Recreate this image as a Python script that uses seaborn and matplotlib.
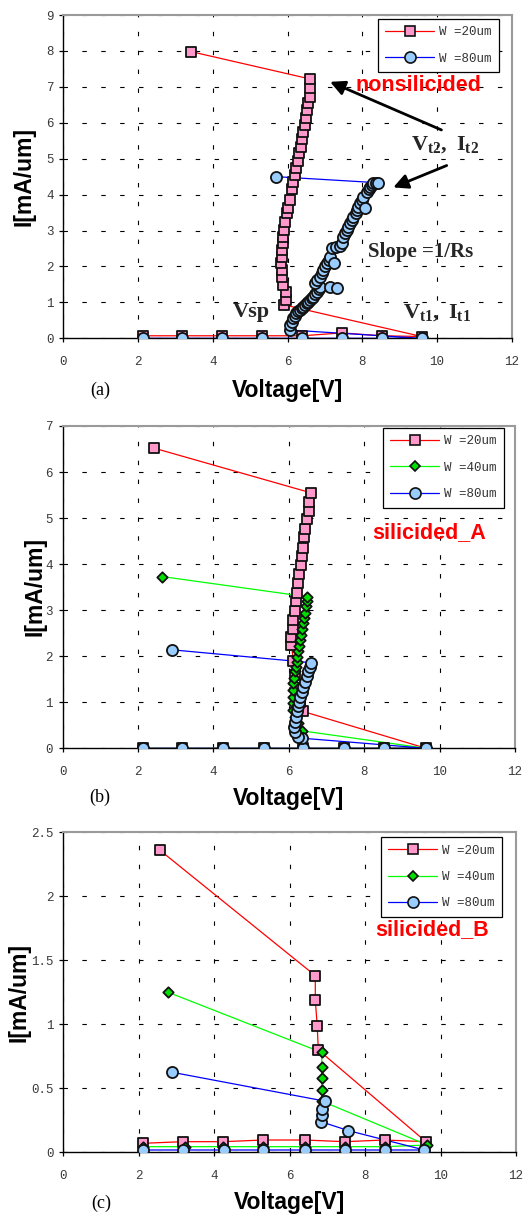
import matplotlib
matplotlib.use("Agg")
import matplotlib.pyplot as plt
from matplotlib.lines import Line2D
import seaborn as sns
import pandas as pd

# ---------------- data ----------------
# panel (a) nonsilicided
a20_V = [2.12, 3.19, 4.26, 5.33, 6.40, 7.45, 8.52, 9.59,
         5.91, 5.96, 5.96, 5.87, 5.84, 5.84, 5.82, 5.84, 5.84, 5.87, 5.89, 5.91,
         5.93, 5.98, 6.02, 6.07, 6.11, 6.16, 6.20, 6.23, 6.27, 6.32, 6.36, 6.38,
         6.42, 6.47, 6.49, 6.51, 6.56, 6.60, 6.60, 6.60, 3.42]
a20_I = [0.07, 0.07, 0.07, 0.07, 0.07, 0.15, 0.07, 0.05,
         0.93, 1.07, 1.30, 1.48, 1.72, 1.90, 2.09, 2.27, 2.46, 2.64, 2.83, 3.01,
         3.25, 3.48, 3.62, 3.85, 4.15, 4.36, 4.55, 4.73, 4.94, 5.15, 5.33, 5.54,
         5.75, 5.94, 6.12, 6.35, 6.54, 6.73, 6.96, 7.22, 7.98]
a80_V = [2.12, 3.19, 4.26, 5.33, 6.40, 7.45, 8.52, 9.59,
         6.07, 6.08, 6.12, 6.16, 6.20, 6.24, 6.28, 6.33, 6.38, 6.42, 6.47, 6.51,
         6.56, 6.60, 6.65, 6.69, 6.74, 6.78, 6.83, 6.87, 7.13, 7.33, 6.74, 6.80,
         6.87, 6.92, 6.96, 7.00, 7.05, 7.10, 7.14, 7.25, 7.18, 7.31, 7.40, 7.45,
         7.49, 7.54, 7.58, 7.62, 7.67, 7.72, 7.76, 7.82, 7.87, 7.90, 7.94, 7.99,
         8.03, 8.07, 8.12, 8.17, 8.21, 8.26, 8.30, 8.37, 8.43, 5.69]
a80_I = [0.00, 0.00, 0.00, 0.00, 0.00, 0.00, 0.00, 0.00,
         0.23, 0.37, 0.46, 0.56, 0.63, 0.70, 0.75, 0.79, 0.84, 0.88, 0.93, 0.97,
         1.02, 1.07, 1.11, 1.16, 1.22, 1.30, 1.36, 1.42, 1.42, 1.39, 1.53, 1.62,
         1.72, 1.81, 1.90, 2.00, 2.09, 2.18, 2.27, 2.09, 2.50, 2.55, 2.58, 2.64,
         2.83, 2.92, 3.01, 3.10, 3.20, 3.30, 3.39, 3.48, 3.57, 3.66, 3.76, 3.85,
         3.94, 3.62, 4.08, 4.15, 4.22, 4.27, 4.31, 4.33, 4.33, 4.50]

# panel (b) silicided_A
b20_V = [2.12, 3.16, 4.26, 5.33, 6.38, 7.47, 8.52, 9.64,
         6.38, 6.30, 6.22, 6.16, 6.12, 6.07, 6.07, 6.10, 6.12, 6.15, 6.19, 6.21,
         6.25, 6.28, 6.32, 6.34, 6.37, 6.40, 6.44, 6.49, 6.54, 6.54, 6.58, 2.42]
b20_I = [0.00, 0.00, 0.00, 0.00, 0.00, 0.00, 0.00, 0.00,
         0.80, 1.00, 1.30, 1.60, 1.90, 2.24, 2.41, 2.59, 2.79, 2.98, 3.19, 3.38,
         3.60, 3.79, 3.98, 4.18, 4.36, 4.58, 4.76, 4.97, 5.16, 5.36, 5.55, 6.52]
b40_V = [2.12, 3.16, 4.26, 5.33, 6.38, 7.47, 8.52, 9.64,
         6.34, 6.25, 6.16, 6.12, 6.10, 6.10, 6.10, 6.12, 6.14, 6.16, 6.18, 6.21,
         6.22, 6.25, 6.27, 6.30, 6.32, 6.34, 6.38, 6.40, 6.43, 6.45, 6.47, 6.49, 2.64]
b40_I = [0.00, 0.00, 0.00, 0.00, 0.00, 0.00, 0.00, 0.00,
         0.38, 0.54, 0.69, 0.83, 0.98, 1.12, 1.27, 1.41, 1.52, 1.67, 1.77, 1.88,
         1.99, 2.12, 2.23, 2.35, 2.46, 2.59, 2.72, 2.82, 2.93, 3.08, 3.19, 3.29, 3.73]
b80_V = [2.12, 3.16, 4.26, 5.33, 6.38, 7.47, 8.52, 9.64,
         6.34, 6.23, 6.16, 6.14, 6.16, 6.18, 6.21, 6.23, 6.27, 6.30, 6.34, 6.38,
         6.43, 6.47, 6.52, 6.56, 6.58, 2.89]
b80_I = [0.00, 0.00, 0.00, 0.00, 0.00, 0.00, 0.00, 0.00,
         0.22, 0.25, 0.36, 0.47, 0.58, 0.69, 0.80, 0.91, 1.01, 1.12, 1.23, 1.34,
         1.45, 1.56, 1.67, 1.77, 1.86, 2.14]

# panel (c) silicided_B
c20_V = [2.10, 3.16, 4.24, 5.30, 6.40, 7.46, 8.52, 9.61, 6.76, 6.73, 6.68, 6.68, 2.56]
c20_I = [0.070, 0.083, 0.083, 0.096, 0.096, 0.083, 0.096, 0.083, 0.80, 0.99, 1.19, 1.38, 2.36]
c40_V = [2.10, 3.22, 4.24, 5.30, 6.40, 7.46, 8.52, 9.65, 6.85, 6.85, 6.85, 6.85, 6.85, 2.78]
c40_I = [0.044, 0.044, 0.044, 0.044, 0.044, 0.044, 0.044, 0.057, 0.40, 0.49, 0.58, 0.67, 0.78, 1.25]
c80_V = [2.10, 3.16, 4.26, 5.30, 6.40, 7.46, 8.52, 9.57, 7.55, 6.82, 6.87, 6.87, 6.93, 2.89]
c80_I = [0.018, 0.018, 0.018, 0.018, 0.018, 0.018, 0.018, 0.018, 0.17, 0.24, 0.29, 0.34, 0.40, 0.625]

x_ticks = [0, 2, 4, 6, 8, 10, 12]
a_yticks = [0, 1, 2, 3, 4, 5, 6, 7, 8, 9]
b_yticks = [0, 1, 2, 3, 4, 5, 6, 7]
c_yticks = [0, 0.5, 1, 1.5, 2, 2.5]
c_yticklabels = ["0", "0.5", "1", "1.5", "2", "2.5"]
legend_labels = {"20": "W =20um", "40": "W =40um", "80": "W =80um"}

# ---------------- style ----------------
sns.set_theme(style="white")
plt.rcParams["font.family"] = ["Liberation Sans", "DejaVu Sans"]
plt.rcParams["mathtext.fontset"] = "custom"
plt.rcParams["mathtext.rm"] = "Liberation Serif:bold"
plt.rcParams["mathtext.it"] = "Liberation Serif:bold"
plt.rcParams["mathtext.bf"] = "Liberation Serif:bold"

STY = {
    "20": dict(line="#FF0000", face="#FF99CC", marker="s", s=60),
    "40": dict(line="#00FF00", face="#00E000", marker="D", s=28),
    "80": dict(line="#0000FF", face="#99CCFF", marker="o", s=64),
}
EDGE = "#111111"

W, H = 526, 1215
fig = plt.figure(figsize=(W / 100, H / 100), dpi=100)


def px_axes(x0, y0, x1, y1):
    return fig.add_axes([x0 / W, 1 - y1 / H, (x1 - x0) / W, (y1 - y0) / H])


def draw_panel(ax, series, ylim, yticks, yticklabels, legend_anchor, keys):
    # lines first (all series), then markers
    for k, (V, I) in series:
        df = pd.DataFrame({"V": V, "I": I})
        sns.lineplot(data=df, x="V", y="I", sort=False, estimator=None,
                     color=STY[k]["line"], lw=0.9, ax=ax, zorder=2)
    for z, (k, (V, I)) in enumerate(series):
        df = pd.DataFrame({"V": V, "I": I})
        sns.scatterplot(data=df, x="V", y="I", marker=STY[k]["marker"], s=STY[k]["s"],
                        color=STY[k]["face"], edgecolor=EDGE, linewidth=1.3,
                        ax=ax, zorder=3 + z, legend=False)
    ax.set_xlim(0, 12)
    ax.set_ylim(*ylim)
    ax.set_xticks(x_ticks)
    ax.set_xticklabels([str(t) for t in x_ticks])
    ax.set_yticks(yticks)
    ax.set_yticklabels(yticklabels)
    ax.set_xlabel("")
    ax.set_ylabel("")
    ax.set_axisbelow(True)
    ax.grid(True, color="black", lw=0.8, linestyle=(0, (4, 13)))
    for lab in ax.get_xticklabels() + ax.get_yticklabels():
        lab.set_fontfamily("Liberation Mono")
        lab.set_fontsize(9)
        lab.set_color("#3a3a3a")
    ax.tick_params(axis="y", which="major", left=True, length=3, width=0.9,
                   color="black", pad=4, direction="out")
    ax.tick_params(axis="x", which="major", bottom=True, length=3, width=0.9,
                   color="black", pad=10, direction="out")
    for sp in ("left", "bottom"):
        ax.spines[sp].set_color("black")
        ax.spines[sp].set_linewidth(1.0)
        ax.spines[sp].set_zorder(2.5)
    for sp in ("top", "right"):
        ax.spines[sp].set_color("#9a9a9a")
        ax.spines[sp].set_linewidth(1.5)
    ax.set_facecolor("white")
    handles = []
    for k in keys:
        st = STY[k]
        handles.append(Line2D([0], [0], color=st["line"], lw=0.9, marker=st["marker"],
                              markersize=(st["s"] ** 0.5), markerfacecolor=st["face"],
                              markeredgecolor=EDGE, markeredgewidth=1.2))
    leg = ax.legend(handles, [legend_labels[k] for k in keys], loc="upper right",
                    bbox_to_anchor=legend_anchor, borderaxespad=0,
                    prop={"family": "Liberation Mono", "size": 9},
                    frameon=True, fancybox=False, framealpha=1, edgecolor="black",
                    handlelength=3.9, handletextpad=0.4, labelspacing=1.15,
                    borderpad=0.6)
    leg.get_frame().set_linewidth(0.9)
    for t in leg.get_texts():
        t.set_color("#333333")
    leg.set_zorder(10)


# ---------------- panel (a) ----------------
axA = px_axes(63.3, 15, 511.7, 338.3)
draw_panel(axA, [("20", (a20_V, a20_I)), ("80", (a80_V, a80_I))],
           (0, 9), a_yticks, [str(t) for t in a_yticks], (0.9717, 0.988), ["20", "80"])
axA.text(7.81, 6.89, "nonsilicided", color="#FF0000", fontsize=15.5,
         fontweight="bold", ha="left", va="baseline", zorder=6)
axA.text(9.30, 5.24, r"$\mathrm{V_{t2},\ I_{t2}}$", fontsize=16, ha="left",
         va="baseline", zorder=6)
axA.text(8.16, 2.27, "Slope =1/Rs", fontsize=15, fontweight="bold",
         family="Liberation Serif", ha="left", va="baseline", zorder=6)
axA.text(5.53, 0.60, "Vsp", fontsize=16, fontweight="bold",
         family="Liberation Serif", ha="right", va="baseline", zorder=6)
axA.text(9.08, 0.58, r"$\mathrm{V_{t1},\ I_{t1}}$", fontsize=16, ha="left",
         va="baseline", zorder=6)
arrow = dict(arrowstyle="-|>", lw=2.0, color="black", mutation_scale=22,
             shrinkA=0, shrinkB=0)
axA.annotate("", xy=(7.14, 7.14), xytext=(10.12, 5.80), arrowprops=arrow, zorder=7)
axA.annotate("", xy=(8.83, 4.20), xytext=(10.26, 4.81), arrowprops=arrow, zorder=7)

# ---------------- panel (b) ----------------
axB = px_axes(62.7, 426, 515, 748.3)
draw_panel(axB, [("20", (b20_V, b20_I)), ("40", (b40_V, b40_I)), ("80", (b80_V, b80_I))],
           (0, 7), b_yticks, [str(t) for t in b_yticks], (0.9757, 0.994), ["20", "40", "80"])
axB.text(8.2, 4.56, "silicided_A", color="#FF0000", fontsize=15.5,
         fontweight="bold", ha="left", va="baseline", zorder=6)

# ---------------- panel (c) ----------------
axC = px_axes(63.3, 832.3, 516, 1152.3)
draw_panel(axC, [("20", (c20_V, c20_I)), ("40", (c40_V, c40_I)), ("80", (c80_V, c80_I))],
           (0, 2.5), c_yticks, c_yticklabels, (0.969, 0.985), ["20", "40", "80"])
axC.text(8.26, 1.70, "silicided_B", color="#FF0000", fontsize=15.5,
         fontweight="bold", ha="left", va="baseline", zorder=6)

# ---------------- axis titles & panel letters ----------------
def ftext(x, y, s, **kw):
    fig.text(x / W, 1 - y / H, s, **kw)

lab = dict(fontsize=16.5, fontweight="bold", family="Liberation Sans", color="black")
for (xc, yc) in [(287.5, 391), (288.8, 799), (289.6, 1203)]:
    ftext(xc, yc, "Voltage[V]", ha="center", va="center", **lab)
for (xc, yc) in [(24, 177), (35, 587), (19, 992)]:
    ftext(xc, yc, "I[mA/um]", ha="center", va="center", rotation=90, **lab)
for (xc, yc, s) in [(100, 390, "(a)"), (100, 797, "(b)"), (101, 1203, "(c)")]:
    ftext(xc, yc, s, ha="center", va="center", fontsize=13,
          family="Liberation Serif", color="black")

fig.savefig("out.png", dpi=100, facecolor="white")
